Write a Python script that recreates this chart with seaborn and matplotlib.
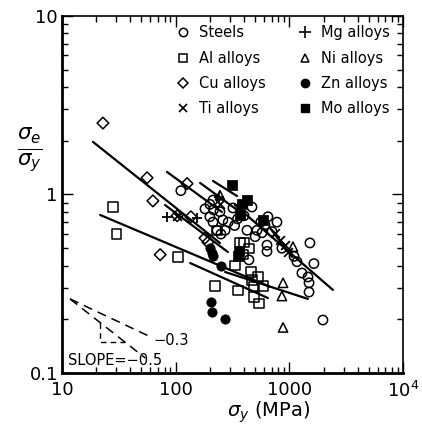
import numpy as np
import matplotlib
matplotlib.use("Agg")
import matplotlib.pyplot as plt
import seaborn as sns
from matplotlib.lines import Line2D
from matplotlib.ticker import LogLocator, NullFormatter, FixedLocator, FixedFormatter

# --- dados (sigma_y em MPa, razão sigma_e/sigma_y) ---
steels_x = [111, 181, 213, 272, 231, 319, 424, 469, 519, 610, 648, 778, 574, 703, 636, 636,
            1167, 1517, 1645, 1290, 1458, 1490, 1490, 441, 1974, 200, 213, 245, 260, 290,
            350, 400, 560, 500, 860, 1100, 200, 215, 250, 330]
steels_y = [1.05, 0.83, 0.70, 0.63, 0.63, 0.84, 0.63, 0.85, 0.63, 0.675, 0.75, 0.70, 0.61, 0.62,
            0.52, 0.48, 0.42, 0.535, 0.41, 0.363, 0.345, 0.32, 0.284, 0.43, 0.198, 0.88, 0.93,
            0.80, 0.72, 0.70, 0.73, 0.76, 0.70, 0.58, 0.50, 0.45, 0.75, 0.82, 0.60, 0.67]

al_x = [28, 30, 105, 222, 353, 399, 441, 332, 459, 530, 470, 586, 488, 488, 540, 231, 368, 390]
al_y = [0.85, 0.60, 0.447, 0.307, 0.29, 0.54, 0.50, 0.40, 0.368, 0.345, 0.332, 0.307, 0.305,
        0.267, 0.244, 0.63, 0.54, 0.46]

cu_x = [22.9, 56, 126, 63, 103, 136, 73, 181, 192]
cu_y = [2.51, 1.24, 1.15, 0.92, 0.76, 0.75, 0.46, 0.57, 0.54]

ti_x = [103, 747, 827, 915, 970, 245]
ti_y = [0.76, 0.61, 0.556, 0.52, 0.477, 0.88]

mg_x = [84, 154, 240]
mg_y = [0.75, 0.74, 0.97]

ni_x = [245, 1076, 880, 860, 880]
ni_y = [0.99, 0.51, 0.32, 0.27, 0.18]

zn_x = [200, 208, 212, 250, 205, 207, 272]
zn_y = [0.50, 0.47, 0.45, 0.40, 0.25, 0.22, 0.20]

mo_x = [313, 384, 424, 368, 587, 353, 362]
mo_y = [1.13, 0.88, 0.93, 0.77, 0.72, 0.45, 0.48]

# retas de ajuste (extremidades: x1, x2, y1, y2)
retas_x = [(18.7, 245), (80.5, 288), (21.6, 675), (134, 648), (272, 1458),
           (332, 2417), (83.8, 255), (164, 346), (213, 346), (675, 1054)]
retas_y = [(1.97, 0.535), (0.873, 0.476), (0.768, 0.304), (0.413, 0.263), (0.368, 0.26),
           (0.873, 0.292), (1.337, 0.798), (1.16, 0.82), (1.19, 0.98), (0.65, 0.447)]

# triângulo de inclinação
origem = (11.75, 0.26)
x_fim_03 = 62
x_fim_05 = 54
x_canto = 21.6
y_canto = 0.149

sns.set_style("ticks")
plt.rcParams['font.family'] = ['DejaVu Sans']
plt.rcParams['mathtext.fontset'] = 'dejavusans'
for chave in ['text.color', 'axes.labelcolor', 'xtick.color', 'ytick.color', 'axes.edgecolor']:
    plt.rcParams[chave] = 'black'

fig = plt.figure(figsize=(4.22, 4.29), dpi=100)
ax = fig.add_axes([0.147, 0.1305, 0.808, 0.8325])

ms = 45
kw_open = dict(facecolor='none', edgecolor='black', linewidth=1.1, s=ms, zorder=3)
kw_fill = dict(color='black', edgecolor='black', s=ms, zorder=3)
sns.scatterplot(x=steels_x, y=steels_y, marker='o', ax=ax, **kw_open)
sns.scatterplot(x=al_x, y=al_y, marker='s', ax=ax, **kw_open)
sns.scatterplot(x=cu_x, y=cu_y, marker='D', ax=ax, facecolor='none', edgecolor='black',
                linewidth=1.1, s=35, zorder=3)
sns.scatterplot(x=ni_x, y=ni_y, marker='^', ax=ax, **kw_open)
sns.scatterplot(x=ti_x, y=ti_y, marker='x', ax=ax, color='black', linewidth=1.3, s=40, zorder=3)
sns.scatterplot(x=mg_x, y=mg_y, marker='+', ax=ax, color='black', linewidth=1.3, s=60, zorder=3)
sns.scatterplot(x=zn_x, y=zn_y, marker='o', ax=ax, **kw_fill)
sns.scatterplot(x=mo_x, y=mo_y, marker='s', ax=ax, **kw_fill)

for rx, ry in zip(retas_x, retas_y):
    ax.plot(rx, ry, color='black', lw=1.6, zorder=2)

# triângulo tracejado
y03 = origem[1] * (x_fim_03 / origem[0]) ** -0.3
y05 = origem[1] * (x_fim_05 / origem[0]) ** -0.5
ax.plot([origem[0], x_fim_03], [origem[1], y03], ls=(0, (6, 4)), color='black', lw=1.1)
ax.plot([origem[0], x_fim_05], [origem[1], y05], ls=(0, (6, 4)), color='black', lw=1.1)
y_v = origem[1] * (x_canto / origem[0]) ** -0.5
x_h = origem[0] * (origem[1] / y_canto) ** 2
ax.plot([x_canto, x_canto, x_h], [y_v, y_canto, y_canto], ls=(0, (4, 3)), color='black', lw=1.0)
ax.text(64, y03 * 0.96, '−0.3', fontsize=10.5, va='center', ha='left')
ax.text(11.3, 0.117, 'SLOPE=−0.5', fontsize=10.5, va='center', ha='left')

ax.set_xscale('log')
ax.set_yscale('log')
ax.set_xlim(10, 1e4)
ax.set_ylim(0.1, 10)

ax.xaxis.set_major_locator(FixedLocator([10, 100, 1000, 10000]))
ax.xaxis.set_major_formatter(FixedFormatter(['10', '100', '1000', r'$10^4$']))
ax.yaxis.set_major_locator(FixedLocator([0.1, 1, 10]))
ax.yaxis.set_major_formatter(FixedFormatter(['0.1', '1', '10']))
ax.xaxis.set_minor_locator(LogLocator(base=10, subs=np.arange(2, 10)))
ax.yaxis.set_minor_locator(LogLocator(base=10, subs=np.arange(2, 10)))
ax.xaxis.set_minor_formatter(NullFormatter())
ax.yaxis.set_minor_formatter(NullFormatter())
ax.tick_params(which='both', direction='in', top=True, right=True, labelsize=13, width=1.0,
               color='black', labelcolor='black')
ax.tick_params(which='major', length=8)
ax.tick_params(which='minor', length=4)
ax.tick_params(axis='x', pad=6)
ax.tick_params(axis='y', pad=3)

for lado in ['left', 'bottom']:
    ax.spines[lado].set_linewidth(2.0)
for lado in ['top', 'right']:
    ax.spines[lado].set_linewidth(1.2)

ax.set_xlabel(r'$\sigma_y$ (MPa)', fontsize=14)
ax.xaxis.set_label_coords(0.607, -0.075)
ax.set_ylabel(r'$\frac{\sigma_e}{\sigma_y}$', fontsize=22, rotation=0, va='center')
ax.yaxis.set_label_coords(-0.095, 0.625)

handles = [
    Line2D([], [], marker='o', ls='', mfc='none', mec='black', ms=6, mew=1.1),
    Line2D([], [], marker='s', ls='', mfc='none', mec='black', ms=6, mew=1.1),
    Line2D([], [], marker='D', ls='', mfc='none', mec='black', ms=5.5, mew=1.1),
    Line2D([], [], marker='x', ls='', color='black', ms=6, mew=1.2),
    Line2D([], [], marker='+', ls='', color='black', ms=8, mew=1.2),
    Line2D([], [], marker='^', ls='', mfc='none', mec='black', ms=6, mew=1.1),
    Line2D([], [], marker='o', ls='', color='black', ms=6),
    Line2D([], [], marker='s', ls='', color='black', ms=6),
]
rotulos = ['Steels', 'Al alloys', 'Cu alloys', 'Ti alloys',
           'Mg alloys', 'Ni alloys', 'Zn alloys', 'Mo alloys']
ax.legend(handles, rotulos, ncol=2, frameon=False, fontsize=10.5, loc='upper right',
          bbox_to_anchor=(1.0, 1.01), handlelength=1.0, handletextpad=0.6,
          columnspacing=2.2, labelspacing=0.7)

fig.savefig('out.png', dpi=100)
